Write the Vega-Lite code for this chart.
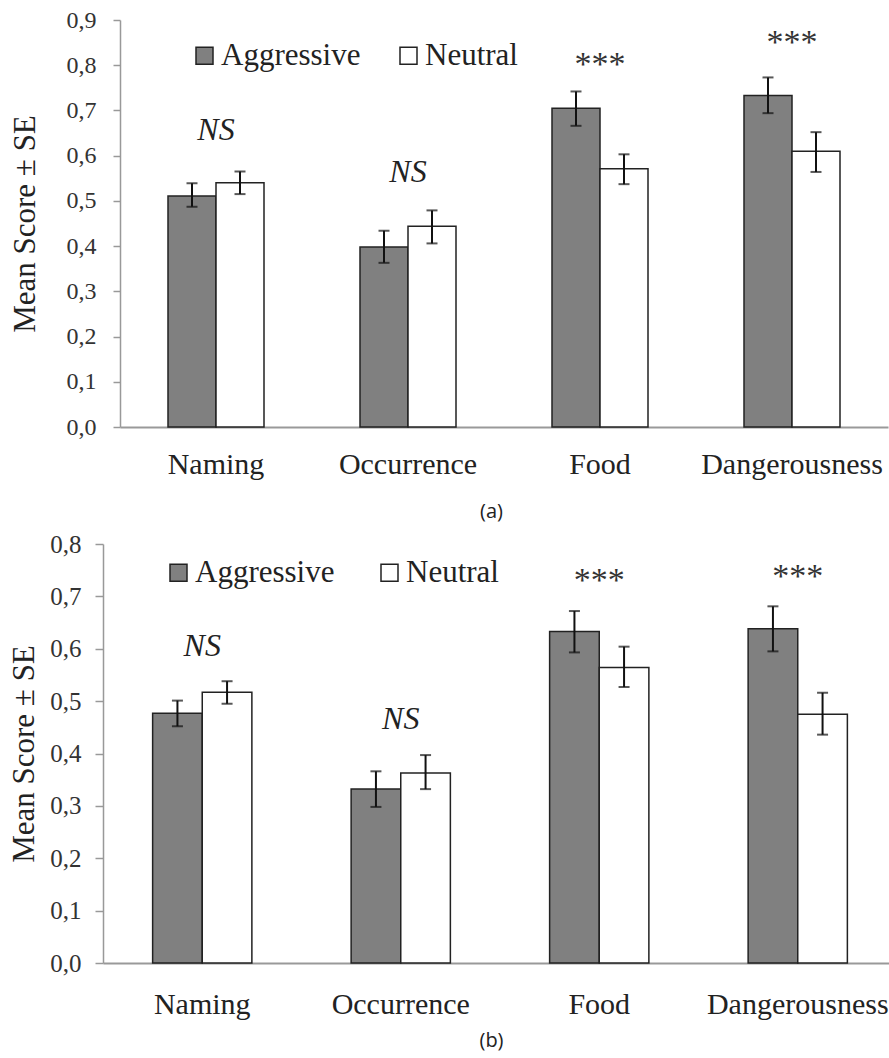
{
  "$schema": "https://vega.github.io/schema/vega-lite/v6.json",
  "usermeta": {"embedOptions": {"actions": false}},
  "padding": {"left": 8, "top": 8, "right": 0, "bottom": 3},
  "background": "white",
  "config": {"view": {"stroke": null}, "font": "Liberation Serif, DejaVu Serif, serif"},
  "datasets": {
    "a": [
      {"category": "Naming", "group": "Aggressive", "mean": 0.511, "lo": 0.487, "hi": 0.539},
      {"category": "Naming", "group": "Neutral", "mean": 0.540, "lo": 0.515, "hi": 0.565},
      {"category": "Occurrence", "group": "Aggressive", "mean": 0.398, "lo": 0.363, "hi": 0.434},
      {"category": "Occurrence", "group": "Neutral", "mean": 0.444, "lo": 0.406, "hi": 0.479},
      {"category": "Food", "group": "Aggressive", "mean": 0.705, "lo": 0.666, "hi": 0.742},
      {"category": "Food", "group": "Neutral", "mean": 0.571, "lo": 0.537, "hi": 0.603},
      {"category": "Dangerousness", "group": "Aggressive", "mean": 0.733, "lo": 0.694, "hi": 0.773},
      {"category": "Dangerousness", "group": "Neutral", "mean": 0.610, "lo": 0.564, "hi": 0.652}
    ],
    "an": [
      {"category": "Naming", "label": "NS", "y": 0.634},
      {"category": "Occurrence", "label": "NS", "y": 0.541},
      {"category": "Food", "label": "***", "y": 0.779},
      {"category": "Dangerousness", "label": "***", "y": 0.827}
    ],
    "b": [
      {"category": "Naming", "group": "Aggressive", "mean": 0.477, "lo": 0.452, "hi": 0.501},
      {"category": "Naming", "group": "Neutral", "mean": 0.517, "lo": 0.495, "hi": 0.538},
      {"category": "Occurrence", "group": "Aggressive", "mean": 0.332, "lo": 0.298, "hi": 0.366},
      {"category": "Occurrence", "group": "Neutral", "mean": 0.363, "lo": 0.332, "hi": 0.397},
      {"category": "Food", "group": "Aggressive", "mean": 0.633, "lo": 0.593, "hi": 0.672},
      {"category": "Food", "group": "Neutral", "mean": 0.564, "lo": 0.527, "hi": 0.604},
      {"category": "Dangerousness", "group": "Aggressive", "mean": 0.638, "lo": 0.595, "hi": 0.681},
      {"category": "Dangerousness", "group": "Neutral", "mean": 0.475, "lo": 0.436, "hi": 0.516}
    ],
    "bn": [
      {"category": "Naming", "label": "NS", "y": 0.587},
      {"category": "Occurrence", "label": "NS", "y": 0.446},
      {"category": "Food", "label": "***", "y": 0.711},
      {"category": "Dangerousness", "label": "***", "y": 0.717}
    ]
  },
  "columns": 1,
  "spacing": 11,
  "resolve": {
    "scale": {"fill": "independent", "x": "independent", "y": "independent", "xOffset": "independent"},
    "legend": {"fill": "independent"}
  },
  "concat": [
    {
      "width": 768,
      "height": 407,
      "layer": [
        {
          "data": {"name": "a"},
          "mark": {"type": "bar", "stroke": "#222222", "strokeWidth": 1.5},
          "encoding": {
            "x": {"field": "category", "type": "nominal", "title": "(a)",
              "sort": ["Naming", "Occurrence", "Food", "Dangerousness"],
              "scale": {"paddingInner": 0, "paddingOuter": 0},
              "axis": {"labelAngle": 0, "labelFont": "Liberation Serif, DejaVu Serif, serif", "labelFontSize": 30, "labelColor": "#222222",
                "labelLimit": 400, "ticks": false, "tickSize": 0, "labelPadding": 22, "domainColor": "#999999", "domainWidth": 2,
                "titleFont": "Open Sans", "titleFontSize": 20, "titleFontWeight": "normal", "titleColor": "#222222",
                "titlePadding": 22, "titleX": 371}},
            "xOffset": {"field": "group", "type": "nominal", "sort": ["Aggressive", "Neutral"],
              "scale": {"paddingInner": 0, "paddingOuter": 1.5}},
            "y": {"field": "mean", "type": "quantitative", "title": "Mean Score ± SE",
              "scale": {"domain": [0, 0.9], "nice": false},
              "axis": {"values": [0, 0.1, 0.2, 0.3, 0.4, 0.5, 0.6, 0.7, 0.8, 0.9],
                "labelExpr": "replace(format(datum.value, '.1f'), '.', ',')",
                "labelFont": "Liberation Serif, DejaVu Serif, serif", "labelFontSize": 24, "labelColor": "#333333",
                "labelPadding": 17, "tickSize": 7, "tickColor": "#999999", "tickWidth": 1.5,
                "domainColor": "#999999", "domainWidth": 1.5, "grid": false,
                "titleFont": "Liberation Serif, DejaVu Serif, serif", "titleFontSize": 31, "titleFontWeight": "normal",
                "titleColor": "#222222", "titlePadding": 25}},
            "fill": {"field": "group", "type": "nominal",
              "scale": {"domain": ["Aggressive", "Neutral"], "range": ["#808080", "#ffffff"]},
              "legend": {"orient": "none", "legendX": 69, "legendY": 20, "direction": "horizontal", "title": null,
                "symbolType": "square", "symbolSize": 289, "symbolStrokeColor": "#222222", "symbolStrokeWidth": 1.5,
                "labelFont": "Liberation Serif, DejaVu Serif, serif", "labelFontSize": 31, "labelColor": "#222222", "labelOffset": 1,
                "columnPadding": 32, "labelLimit": 400}}
          }
        },
        {
          "data": {"name": "a"},
          "mark": {"type": "rule", "color": "#111111", "strokeWidth": 2},
          "encoding": {
            "x": {"field": "category", "type": "nominal", "title": "(a)", "sort": ["Naming", "Occurrence", "Food", "Dangerousness"]},
            "xOffset": {"field": "group", "type": "nominal", "sort": ["Aggressive", "Neutral"]},
            "y": {"field": "lo", "type": "quantitative", "title": "Mean Score ± SE"},
            "y2": {"field": "hi"}
          }
        },
        {
          "data": {"name": "a"},
          "mark": {"type": "tick", "color": "#111111", "size": 11, "thickness": 2},
          "encoding": {
            "x": {"field": "category", "type": "nominal", "title": "(a)", "sort": ["Naming", "Occurrence", "Food", "Dangerousness"]},
            "xOffset": {"field": "group", "type": "nominal", "sort": ["Aggressive", "Neutral"]},
            "y": {"field": "hi", "type": "quantitative", "title": "Mean Score ± SE"}
          }
        },
        {
          "data": {"name": "a"},
          "mark": {"type": "tick", "color": "#111111", "size": 11, "thickness": 2},
          "encoding": {
            "x": {"field": "category", "type": "nominal", "title": "(a)", "sort": ["Naming", "Occurrence", "Food", "Dangerousness"]},
            "xOffset": {"field": "group", "type": "nominal", "sort": ["Aggressive", "Neutral"]},
            "y": {"field": "lo", "type": "quantitative", "title": "Mean Score ± SE"}
          }
        },
        {
          "data": {"name": "an"},
          "transform": [{"filter": "datum.label == 'NS'"}],
          "mark": {"type": "text", "font": "Liberation Serif, DejaVu Serif, serif", "fontSize": 32, "fontStyle": "italic", "color": "#222222", "baseline": "alphabetic"},
          "encoding": {
            "x": {"field": "category", "type": "nominal", "title": "(a)", "sort": ["Naming", "Occurrence", "Food", "Dangerousness"]},
            "y": {"field": "y", "type": "quantitative", "title": "Mean Score ± SE"},
            "text": {"field": "label"}
          }
        },
        {
          "data": {"name": "an"},
          "transform": [{"filter": "datum.label == '***'"}],
          "mark": {"type": "text", "font": "Liberation Serif, DejaVu Serif, serif", "fontSize": 34, "color": "#333333", "baseline": "alphabetic"},
          "encoding": {
            "x": {"field": "category", "type": "nominal", "title": "(a)", "sort": ["Naming", "Occurrence", "Food", "Dangerousness"]},
            "y": {"field": "y", "type": "quantitative", "title": "Mean Score ± SE"},
            "text": {"field": "label"}
          }
        }
      ]
    },
    {
      "width": 777,
      "height": 419,
      "layer": [
        {
          "data": {"name": "b"},
          "mark": {"type": "bar", "stroke": "#222222", "strokeWidth": 1.5},
          "encoding": {
            "x": {"field": "category", "type": "nominal", "title": "(b)",
              "sort": ["Naming", "Occurrence", "Food", "Dangerousness"],
              "scale": {"paddingInner": 0, "paddingOuter": 0, "range": [-17, 777]},
              "axis": {"labelAngle": 0, "labelFont": "Liberation Serif, DejaVu Serif, serif", "labelFontSize": 30, "labelColor": "#222222",
                "labelLimit": 400, "ticks": false, "tickSize": 0, "labelPadding": 26, "domainColor": "#999999", "domainWidth": 2,
                "titleFont": "Open Sans", "titleFontSize": 20, "titleFontWeight": "normal", "titleColor": "#222222",
                "titlePadding": 11, "titleX": 371}},
            "xOffset": {"field": "group", "type": "nominal", "sort": ["Aggressive", "Neutral"],
              "scale": {"paddingInner": 0, "paddingOuter": 1.5}},
            "y": {"field": "mean", "type": "quantitative", "title": "Mean Score ± SE",
              "scale": {"domain": [0, 0.8], "nice": false},
              "axis": {"values": [0, 0.1, 0.2, 0.3, 0.4, 0.5, 0.6, 0.7, 0.8], "offset": 17,
                "labelExpr": "replace(format(datum.value, '.1f'), '.', ',')",
                "labelFont": "Liberation Serif, DejaVu Serif, serif", "labelFontSize": 25, "labelColor": "#333333",
                "labelPadding": 14, "tickSize": 8, "tickColor": "#999999", "tickWidth": 1.5,
                "domainColor": "#999999", "domainWidth": 1.5, "grid": false,
                "titleFont": "Liberation Serif, DejaVu Serif, serif", "titleFontSize": 31, "titleFontWeight": "normal",
                "titleColor": "#222222", "titlePadding": 9}},
            "fill": {"field": "group", "type": "nominal",
              "scale": {"domain": ["Aggressive", "Neutral"], "range": ["#808080", "#ffffff"]},
              "legend": {"orient": "none", "legendX": 43, "legendY": 13, "direction": "horizontal", "title": null,
                "symbolType": "square", "symbolSize": 289, "symbolStrokeColor": "#222222", "symbolStrokeWidth": 1.5,
                "labelFont": "Liberation Serif, DejaVu Serif, serif", "labelFontSize": 31, "labelColor": "#222222", "labelOffset": 1,
                "columnPadding": 39, "labelLimit": 400}}
          }
        },
        {
          "data": {"name": "b"},
          "mark": {"type": "rule", "color": "#111111", "strokeWidth": 2},
          "encoding": {
            "x": {"field": "category", "type": "nominal", "title": "(b)", "sort": ["Naming", "Occurrence", "Food", "Dangerousness"]},
            "xOffset": {"field": "group", "type": "nominal", "sort": ["Aggressive", "Neutral"]},
            "y": {"field": "lo", "type": "quantitative", "title": "Mean Score ± SE"},
            "y2": {"field": "hi"}
          }
        },
        {
          "data": {"name": "b"},
          "mark": {"type": "tick", "color": "#111111", "size": 11, "thickness": 2},
          "encoding": {
            "x": {"field": "category", "type": "nominal", "title": "(b)", "sort": ["Naming", "Occurrence", "Food", "Dangerousness"]},
            "xOffset": {"field": "group", "type": "nominal", "sort": ["Aggressive", "Neutral"]},
            "y": {"field": "hi", "type": "quantitative", "title": "Mean Score ± SE"}
          }
        },
        {
          "data": {"name": "b"},
          "mark": {"type": "tick", "color": "#111111", "size": 11, "thickness": 2},
          "encoding": {
            "x": {"field": "category", "type": "nominal", "title": "(b)", "sort": ["Naming", "Occurrence", "Food", "Dangerousness"]},
            "xOffset": {"field": "group", "type": "nominal", "sort": ["Aggressive", "Neutral"]},
            "y": {"field": "lo", "type": "quantitative", "title": "Mean Score ± SE"}
          }
        },
        {
          "data": {"name": "bn"},
          "transform": [{"filter": "datum.label == 'NS'"}],
          "mark": {"type": "text", "font": "Liberation Serif, DejaVu Serif, serif", "fontSize": 32, "fontStyle": "italic", "color": "#222222", "baseline": "alphabetic"},
          "encoding": {
            "x": {"field": "category", "type": "nominal", "title": "(b)", "sort": ["Naming", "Occurrence", "Food", "Dangerousness"]},
            "y": {"field": "y", "type": "quantitative", "title": "Mean Score ± SE"},
            "text": {"field": "label"}
          }
        },
        {
          "data": {"name": "bn"},
          "transform": [{"filter": "datum.label == '***'"}],
          "mark": {"type": "text", "font": "Liberation Serif, DejaVu Serif, serif", "fontSize": 34, "color": "#333333", "baseline": "alphabetic"},
          "encoding": {
            "x": {"field": "category", "type": "nominal", "title": "(b)", "sort": ["Naming", "Occurrence", "Food", "Dangerousness"]},
            "y": {"field": "y", "type": "quantitative", "title": "Mean Score ± SE"},
            "text": {"field": "label"}
          }
        }
      ]
    }
  ]
}
